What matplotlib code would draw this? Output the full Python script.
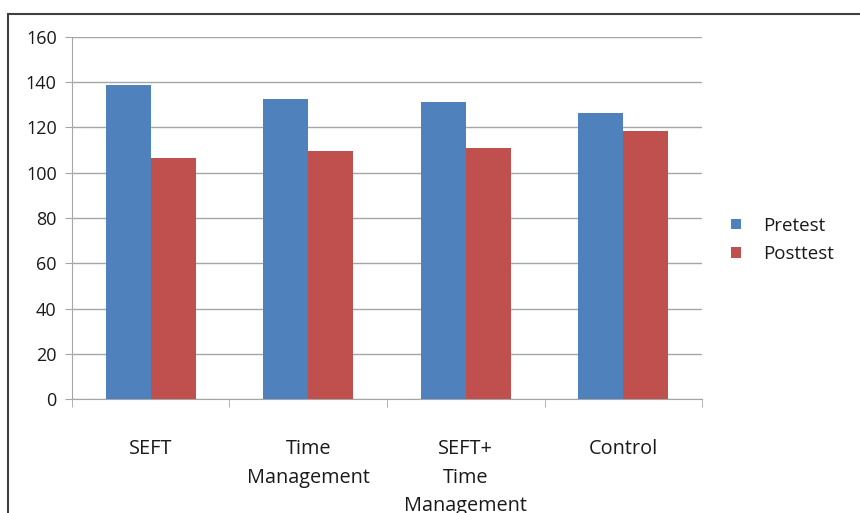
import numpy as np
import matplotlib
matplotlib.use('Agg')
import matplotlib.pyplot as plt
from matplotlib.patches import Rectangle

# Data
groups = ['SEFT', 'Time\nManagement', 'SEFT+\nTime\nManagement', 'Control']
pretest = [138.8, 132.6, 131.3, 126.4]
posttest = [106.5, 109.6, 110.9, 118.4]
y_ticks = [0, 20, 40, 60, 80, 100, 120, 140, 160]

plt.rcParams['font.family'] = ['Open Sans', 'DejaVu Sans']

fig = plt.figure(figsize=(8.6, 5.13), dpi=100)
ax = fig.add_axes([0.0837, 0.2222, 0.7326, 0.7057])

# Outer chart border
fig.patches.append(Rectangle((8 / 860, -0.1), 1.1, 1 - 14 / 513 + 0.1,
                             transform=fig.transFigure, fill=False,
                             edgecolor='#404040', linewidth=1.5))

x = np.arange(len(groups))
w = 0.286
ax.bar(x - w / 2, pretest, w, color='#4F81BD', label='Pretest', zorder=3)
ax.bar(x + w / 2, posttest, w, color='#C0504D', label='Posttest', zorder=3)

ax.set_xlim(-0.5, len(groups) - 0.5)
ax.set_ylim(0, 160)
ax.set_yticks(y_ticks)
ax.yaxis.grid(True, color='#A6A6A6', linewidth=1, zorder=0)
ax.tick_params(axis='y', length=5, color='#A6A6A6', labelsize=13,
               pad=6, labelcolor='#1a1a1a')

ax.set_xticks(x)
ax.set_xticklabels(groups, fontsize=14.3, linespacing=1.55, color='#1a1a1a')
ax.set_xticks(np.arange(len(groups) + 1) - 0.5, minor=True)
ax.tick_params(axis='x', which='major', length=0, pad=29)
ax.tick_params(axis='x', which='minor', length=6, color='#A6A6A6')

for s in ['top', 'right']:
    ax.spines[s].set_visible(False)
for s in ['left', 'bottom']:
    ax.spines[s].set_color('#A6A6A6')

ax.legend(loc='center left', bbox_to_anchor=(1.02, 0.44), frameon=False,
          fontsize=13.5, handlelength=0.5, handleheight=0.5, handletextpad=1.2,
          labelspacing=0.55, labelcolor='#1a1a1a')

plt.savefig('out.png', dpi=100)
